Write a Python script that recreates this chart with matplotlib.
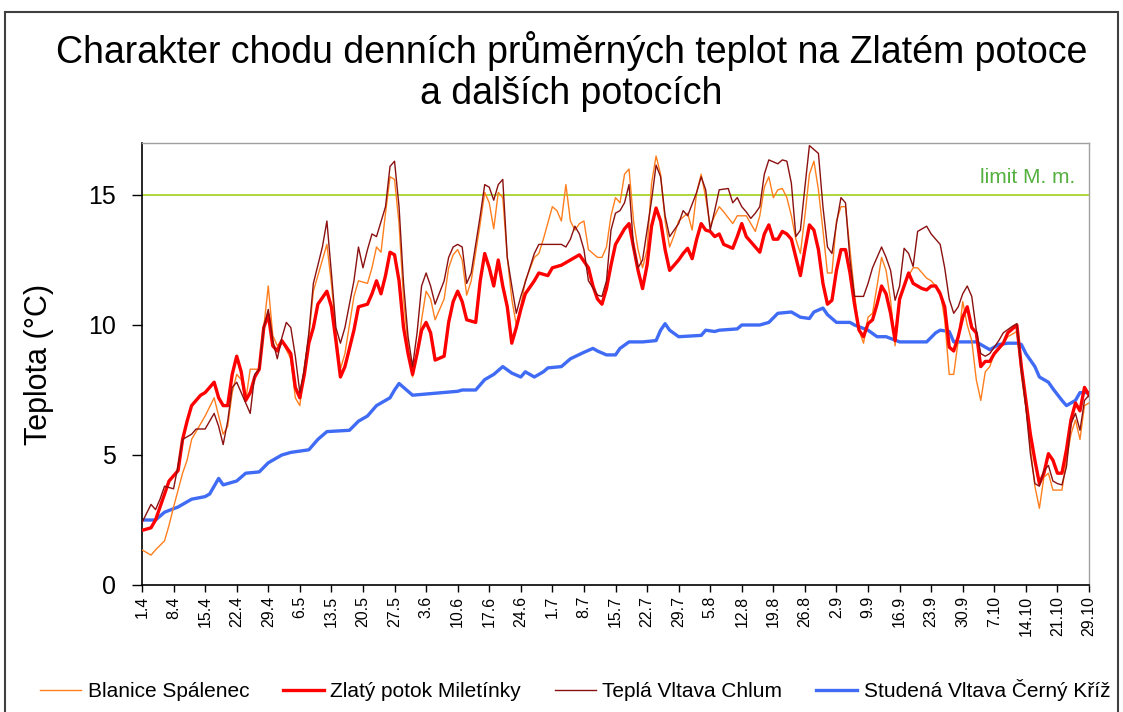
import matplotlib
matplotlib.use("Agg")
import matplotlib.pyplot as plt
from matplotlib.patches import Rectangle

plt.rcParams['font.family'] = ['Liberation Sans', 'DejaVu Sans']

# ---------------- data ----------------
tick_labels = ["1.4", "8.4", "15.4", "22.4", "29.4", "6.5", "13.5", "20.5", "27.5",
               "3.6", "10.6", "17.6", "24.6", "1.7", "8.7", "15.7", "22.7", "29.7",
               "5.8", "12.8", "19.8", "26.8", "2.9", "9.9", "16.9", "23.9", "30.9",
               "7.10", "14.10", "21.10", "29.10"]

limit_value = 15
limit_label = "limit M. m."

# Zlatý potok Miletínky (red)
red_days = [0, 2, 3, 5, 6, 8, 9, 10, 11, 13, 14, 16, 17, 18, 19, 20, 21, 22, 23, 24, 25, 26, 27, 28,
            29, 30, 31, 33, 34, 35, 36, 37, 38, 39, 41, 42, 43, 44, 45, 47, 48, 50, 51, 52, 53, 54,
            55, 56, 57, 58, 59, 60, 61, 62, 63, 64, 65, 67, 68, 69, 70, 71, 72, 74, 75, 76, 77, 78,
            79, 80, 81, 82, 83, 84, 85, 87, 88, 90, 91, 93, 94, 96, 97, 99, 100, 101, 102, 103, 104,
            105, 106, 107, 108, 109, 110, 111, 112, 113, 114, 115, 116, 117, 118, 119, 120, 121, 122,
            123, 124, 125, 126, 127, 128, 129, 131, 132, 133, 134, 136, 137, 138, 139, 140, 141, 142,
            143, 144, 145, 146, 147, 148, 149, 150, 151, 152, 153, 154, 155, 156, 157, 158, 159, 160,
            161, 162, 163, 164, 165, 166, 167, 168, 169, 170, 171, 172, 173, 174, 175, 176, 177, 178,
            179, 180, 181, 182, 183, 184, 185, 186, 187, 188, 189, 191, 192, 194, 195, 196, 197, 198,
            199, 200, 201, 202, 203, 204, 205, 206, 207, 208, 209, 210]
red_vals = [2.1, 2.2, 2.5, 3.5, 4.0, 4.4, 5.6, 6.3, 6.9, 7.3, 7.4, 7.8, 7.2, 6.9, 6.9, 8.1, 8.8, 8.2,
            7.1, 7.4, 8.0, 8.3, 9.9, 10.4, 9.2, 9.0, 9.4, 8.9, 7.6, 7.2, 8.1, 9.3, 9.9, 10.8, 11.3,
            10.7, 9.4, 8.0, 8.4, 9.8, 10.7, 10.8, 11.2, 11.7, 11.2, 11.9, 12.8, 12.7, 11.7, 9.9, 8.9,
            8.1, 8.9, 9.8, 10.1, 9.7, 8.65, 8.8, 10.1, 10.9, 11.3, 10.9, 10.2, 10.1, 11.7, 12.75,
            12.2, 11.5, 12.5, 11.5, 10.7, 9.3, 9.9, 10.6, 11.2, 11.7, 12.0, 11.9, 12.2, 12.3, 12.4,
            12.6, 12.7, 12.2, 11.5, 11.0, 10.8, 11.4, 12.3, 13.1, 13.4, 13.7, 13.9, 13.0, 12.1, 11.4,
            12.3, 13.8, 14.5, 14.0, 12.9, 12.1, 12.3, 12.5, 12.75, 12.95, 12.55, 13.3, 13.9, 13.65,
            13.6, 13.4, 13.5, 13.1, 12.95, 13.4, 13.9, 13.4, 13.0, 12.8, 13.5, 13.85, 13.3, 13.3,
            13.6, 13.5, 13.3, 12.6, 11.9, 12.9, 13.85, 13.65, 12.9, 11.6, 10.8, 10.95, 12.1, 12.9,
            12.9, 12.0, 10.8, 9.8, 9.55, 10.05, 10.2, 10.8, 11.5, 11.2, 10.45, 9.4, 11.0, 11.5, 12.0,
            11.6, 11.5, 11.4, 11.35, 11.5, 11.5, 11.2, 10.7, 9.15, 9.0, 9.55, 10.3, 10.7, 9.9, 9.7,
            8.4, 8.6, 8.6, 8.9, 9.3, 9.7, 10.0, 8.4, 7.1, 5.8, 4.8, 3.9, 4.3, 5.05, 4.8, 4.3, 4.3,
            5.2, 6.35, 7.0, 6.7, 7.6, 7.3]

# Blanice Spálenec (orange)
orange_days = [0, 2, 3, 5, 6, 7, 9, 10, 11, 13, 14, 16, 17, 18, 19, 20, 21, 22, 23, 24, 26, 27, 28,
               29, 30, 31, 33, 34, 35, 36, 37, 38, 40, 41, 42, 43, 44, 45, 47, 48, 50, 51, 52, 53,
               54, 55, 56, 57, 58, 59, 60, 61, 62, 63, 64, 65, 67, 68, 69, 70, 71, 72, 73, 75, 76,
               77, 78, 79, 80, 81, 82, 83, 84, 85, 87, 88, 89, 91, 92, 93, 94, 95, 96, 97, 98, 99,
               100, 101, 102, 103, 104, 105, 106, 107, 108, 109, 110, 111, 112, 113, 114, 115, 116,
               117, 118, 119, 121, 122, 123, 124, 125, 126, 127, 128, 129, 131, 132, 134, 135, 136,
               137, 138, 139, 140, 141, 142, 143, 144, 145, 146, 147, 148, 149, 150, 151, 152, 153,
               154, 155, 156, 157, 158, 159, 160, 161, 162, 163, 164, 165, 166, 167, 168, 169, 170,
               171, 172, 173, 174, 175, 176, 177, 178, 179, 180, 181, 182, 183, 184, 185, 186, 187,
               188, 189, 191, 192, 194, 195, 196, 197, 198, 199, 200, 201, 202, 204, 205, 206, 207,
               208, 209, 210]
orange_vals = [1.35, 1.15, 1.35, 1.7, 2.3, 3.0, 4.3, 4.8, 5.6, 6.2, 6.5, 7.2, 6.5, 5.8, 6.1, 7.4,
               8.1, 7.9, 7.1, 8.3, 8.3, 9.9, 11.5, 9.6, 9.2, 9.4, 8.7, 7.2, 6.9, 8.4, 9.55, 11.3,
               12.5, 13.1, 11.6, 9.7, 8.3, 8.9, 11.1, 11.7, 11.6, 12.2, 13.0, 12.8, 14.3, 15.7, 15.6,
               13.9, 11.0, 9.2, 8.0, 8.9, 10.2, 11.3, 11.0, 10.2, 11.0, 12.2, 12.7, 12.9, 12.5, 11.15,
               11.7, 13.9, 15.1, 14.7, 13.7, 15.1, 14.9, 12.6, 11.0, 10.0, 10.7, 11.7, 12.6, 12.75,
               13.3, 14.55, 14.4, 14.0, 15.4, 14.0, 13.65, 13.9, 14.0, 12.9, 12.75, 12.6, 12.6, 13.0,
               14.2, 14.9, 14.7, 15.8, 16.0, 14.0, 12.9, 12.2, 12.9, 15.45, 16.5, 15.8, 14.0, 13.0,
               13.45, 14.0, 14.3, 13.65, 15.1, 15.8, 14.9, 13.8, 14.2, 14.55, 14.35, 13.9, 14.2, 14.2,
               13.9, 13.6, 14.2, 15.3, 15.7, 14.9, 15.2, 15.25, 14.9, 14.2, 13.3, 12.75, 14.2, 15.8,
               16.3, 15.2, 13.65, 12.0, 12.0, 14.0, 14.55, 14.55, 12.9, 11.2, 9.8, 9.3, 10.3, 10.45,
               11.5, 12.6, 12.1, 10.95, 9.2, 10.9, 11.5, 11.9, 12.2, 12.2, 12.0, 11.8, 11.7, 11.5,
               11.3, 10.2, 8.1, 8.1, 9.4, 10.9, 10.0, 9.4, 7.9, 7.1, 8.2, 8.4, 8.9, 9.3, 9.55, 9.75,
               8.1, 6.85, 5.3, 3.8, 2.95, 4.15, 4.3, 3.65, 3.65, 4.8, 5.8, 6.35, 5.6, 6.9, 7.0]

# Teplá Vltava Chlum (dark red)
dred_days = [0, 2, 3, 4, 5, 7, 8, 9, 11, 12, 14, 16, 17, 18, 19, 20, 21, 23, 24, 25, 26, 27, 28, 29,
             30, 31, 32, 33, 34, 35, 36, 37, 38, 40, 41, 42, 43, 44, 45, 47, 48, 49, 50, 51, 52, 54,
             55, 56, 57, 58, 59, 60, 61, 62, 63, 64, 65, 67, 68, 69, 70, 71, 72, 73, 75, 76, 77, 78,
             79, 80, 81, 82, 83, 84, 86, 87, 88, 90, 91, 93, 94, 95, 96, 97, 98, 99, 101, 102, 103,
             104, 105, 106, 107, 108, 109, 110, 111, 113, 114, 115, 116, 117, 118, 119, 120, 121, 123,
             124, 125, 126, 127, 128, 130, 131, 132, 133, 134, 135, 136, 137, 138, 139, 141, 142, 143,
             144, 145, 146, 147, 148, 150, 151, 152, 153, 154, 155, 156, 157, 158, 160, 161, 162, 164,
             165, 166, 167, 168, 169, 170, 171, 172, 174, 175, 177, 178, 179, 180, 181, 182, 183, 184,
             185, 186, 187, 188, 190, 191, 193, 194, 195, 196, 197, 198, 199, 200, 201, 202, 203, 204,
             205, 206, 207, 208, 209, 210]
dred_vals = [2.4, 3.1, 2.9, 3.3, 3.8, 3.7, 4.6, 5.6, 5.8, 6.0, 6.0, 6.6, 6.1, 5.4, 6.3, 7.6, 7.8, 7.0,
             6.6, 8.1, 8.3, 9.9, 10.6, 9.4, 8.7, 9.5, 10.1, 9.9, 8.8, 7.4, 8.3, 9.7, 11.6, 13.0, 14.0,
             12.0, 9.9, 9.3, 9.9, 11.7, 13.0, 12.2, 12.9, 13.5, 13.4, 14.55, 16.1, 16.3, 14.55, 11.6,
             9.55, 8.4, 9.7, 11.5, 12.0, 11.5, 10.8, 11.7, 12.6, 13.0, 13.1, 13.0, 11.6, 12.0, 14.2,
             15.4, 15.3, 14.8, 15.4, 15.6, 12.6, 11.5, 10.45, 11.1, 12.2, 12.75, 13.1, 13.1, 13.1,
             13.1, 13.0, 13.3, 13.8, 13.5, 12.9, 11.7, 11.15, 11.1, 11.7, 13.65, 14.3, 14.4, 14.7,
             15.4, 13.0, 12.2, 12.5, 14.8, 16.15, 15.7, 14.2, 13.4, 13.65, 13.9, 14.4, 14.2, 15.1,
             15.7, 15.2, 13.65, 14.4, 15.2, 15.25, 14.7, 14.9, 14.55, 14.35, 14.1, 14.3, 14.55, 15.8,
             16.35, 16.2, 16.35, 16.3, 15.45, 13.4, 13.65, 15.3, 16.9, 16.6, 14.55, 13.0, 12.75, 13.9,
             14.9, 14.7, 12.5, 11.1, 11.1, 11.6, 12.2, 13.0, 12.6, 12.1, 10.95, 11.5, 12.95, 12.75,
             12.25, 13.6, 13.8, 13.5, 13.1, 12.2, 11.0, 10.45, 10.7, 11.2, 11.5, 11.1, 9.8, 8.9, 8.8,
             8.9, 9.4, 9.7, 9.95, 10.05, 8.3, 6.85, 5.05, 3.9, 3.8, 4.4, 4.6, 4.0, 3.9, 3.85, 4.55,
             6.2, 6.6, 5.95, 7.1, 7.3]

# Studená Vltava Černý Kříž (blue)
blue_days = [0, 3, 5, 8, 11, 14, 15, 17, 18, 21, 23, 26, 28, 31, 33, 37, 39, 41, 46, 48, 50, 52, 55,
             56, 57, 58, 60, 70, 71, 74, 76, 78, 80, 82, 84, 85, 87, 89, 90, 93, 95, 98, 100, 101,
             103, 105, 106, 108, 111, 114, 115, 116, 117, 119, 124, 125, 127, 128, 132, 133, 137, 139,
             141, 144, 146, 148, 149, 151, 152, 154, 157, 158, 161, 163, 165, 168, 174, 176, 177, 179,
             180, 185, 187, 188, 190, 192, 194, 195, 196, 198, 199, 201, 202, 204, 205, 207, 208, 210]
blue_vals = [2.5, 2.5, 2.8, 3.0, 3.3, 3.4, 3.5, 4.1, 3.85, 4.0, 4.3, 4.35, 4.7, 5.0, 5.1, 5.2, 5.6,
             5.9, 5.95, 6.3, 6.5, 6.9, 7.2, 7.5, 7.75, 7.6, 7.3, 7.45, 7.5, 7.5, 7.9, 8.1, 8.4, 8.15,
             8.0, 8.2, 8.0, 8.2, 8.35, 8.4, 8.7, 8.95, 9.1, 9.0, 8.85, 8.85, 9.1, 9.35, 9.35, 9.4, 9.8,
             10.05, 9.8, 9.55, 9.6, 9.8, 9.75, 9.8, 9.85, 10.0, 10.0, 10.1, 10.45, 10.5, 10.3, 10.25,
             10.5, 10.65, 10.4, 10.1, 10.1, 10.0, 9.8, 9.55, 9.55, 9.35, 9.35, 9.7, 9.8, 9.75, 9.35,
             9.35, 9.15, 9.05, 9.25, 9.3, 9.3, 9.25, 8.9, 8.4, 8.0, 7.8, 7.55, 7.1, 6.9, 7.1, 7.4, 7.4]

series_names = ["Blanice Spálenec", "Zlatý potok Miletínky", "Teplá Vltava Chlum",
                "Studená Vltava Černý Kříž"]

# ---------------- figure ----------------
W, H = 1123, 712
fig = plt.figure(figsize=(W / 100, H / 100), dpi=100)
fig.patch.set_facecolor('white')

# outer frame
fig.patches.append(Rectangle((5 / W, -0.05), 1113 / W, 1 - 12 / H + 0.05,
                             transform=fig.transFigure, fill=False,
                             edgecolor='#404040', linewidth=1.5, zorder=0))

ax = fig.add_axes([142 / W, 1 - 585 / H, (1089 - 142) / W, (585 - 143) / H])

ax.axhline(limit_value, color='#A8D42A', linewidth=1.3, zorder=1)
l_or, = ax.plot(orange_days, orange_vals, color='#FF7F1E', linewidth=1.0, zorder=3)
l_red, = ax.plot(red_days, red_vals, color='#FF0000', linewidth=2.4, zorder=4)
l_dr, = ax.plot(dred_days, dred_vals, color='#8B1010', linewidth=1.0, zorder=5)
l_bl, = ax.plot(blue_days, blue_vals, color='#3F6BF5', linewidth=2.4, zorder=2)

ax.set_xlim(0, 210)
ax.set_ylim(0, 17)
ax.set_yticks([0, 5, 10, 15])
ax.set_xticks([7 * i for i in range(len(tick_labels))])
ax.set_xticklabels(tick_labels, rotation=90, fontsize=11.5, va='top', ha='center')
ax.tick_params(axis='y', labelsize=18, length=7, width=1, direction='out', pad=12)
ax.tick_params(axis='x', length=5, width=1, direction='out', pad=3)

for s in ['top', 'right']:
    ax.spines[s].set_color('#A0A0A0')
    ax.spines[s].set_linewidth(1.0)
for s in ['left', 'bottom']:
    ax.spines[s].set_color('black')
    ax.spines[s].set_linewidth(1.2)

ax.text(0.985, 0.923, limit_label, transform=ax.transAxes, ha='right', va='center',
        fontsize=15, color='#55B040')

ax.set_ylabel("Teplota (°C)", fontsize=22)
ax.yaxis.set_label_coords(-0.093, 0.5)

fig.text(0.509, 0.8996, "Charakter chodu denních průměrných teplot na Zlatém potoce\na dalších potocích",
         ha='center', va='center', fontsize=27, linespacing=1.18)

fig.legend([l_or, l_red, l_dr, l_bl], series_names, loc='center',
           bbox_to_anchor=(0.512, 0.031), ncol=4, frameon=False, fontsize=15,
           handlelength=2.0, handletextpad=0.3, columnspacing=1.6)

fig.savefig("out.png", dpi=100)
